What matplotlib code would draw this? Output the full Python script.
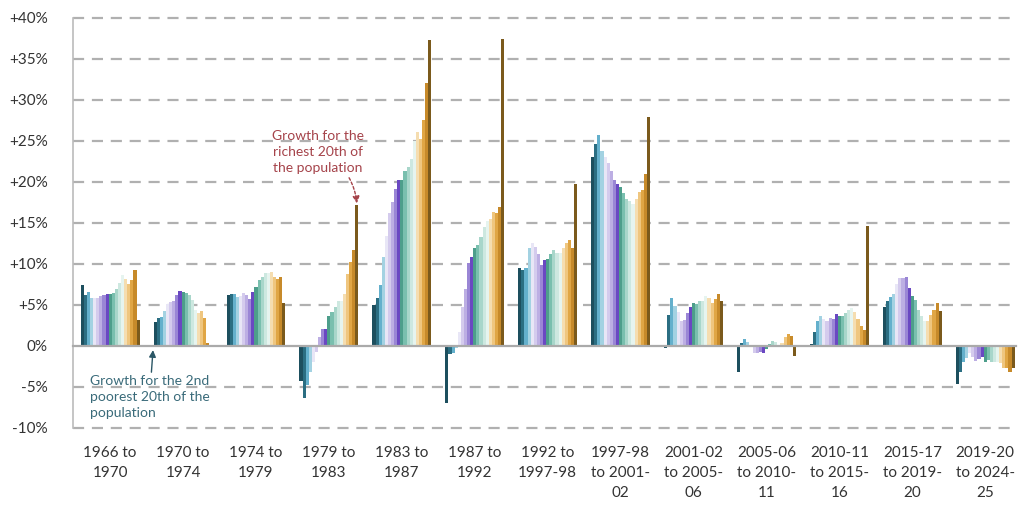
"""
Income growth by twentieth of the population, across periods
(grouped bars, one bar per twentieth from the 2nd poorest to the richest)
"""

import numpy as np
import matplotlib
matplotlib.use('Agg')
from matplotlib import pyplot as plt

plt.rcParams['font.family'] = ['Lato', 'DejaVu Sans']

periods = ['1966 to\n1970', '1970 to\n1974', '1974 to\n1979', '1979 to\n1983',
           '1983 to\n1987', '1987 to\n1992', '1992 to\n1997-98',
           '1997-98\nto 2001-\n02', '2001-02\nto 2005-\n06', '2005-06\nto 2010-\n11',
           '2010-11\nto 2015-\n16', '2015-17\nto 2019-\n20', '2019-20\nto 2024-\n25']

# growth (%) for twentieths 2..20, one list per period
g_1966 = [7.4, 6.2, 6.6, 5.8, 5.8, 5.8, 6.1, 6.2, 6.3, 6.4, 6.5, 6.9, 7.7, 8.7, 8.2, 7.5, 8.0, 9.3, 3.2]
g_1970 = [2.9, 3.4, 3.5, 4.3, 5.1, 5.4, 5.5, 6.2, 6.7, 6.6, 6.5, 6.2, 5.6, 4.4, 4.0, 4.3, 3.4, 0.4, 0.0]
g_1974 = [6.2, 6.4, 6.3, 6.0, 6.1, 6.5, 6.2, 5.7, 6.6, 7.2, 8.0, 8.4, 8.9, 8.9, 9.0, 8.4, 8.2, 8.4, 5.3]
g_1979 = [-4.3, -6.4, -4.8, -3.2, -1.9, -0.7, 1.1, 2.1, 2.1, 3.6, 4.2, 4.7, 5.5, 5.5, 6.3, 8.8, 10.3, 11.7, 17.2]
g_1983 = [5.0, 5.8, 7.4, 10.9, 13.4, 16.2, 17.5, 19.1, 20.2, 20.3, 21.4, 21.8, 22.8, 25.0, 26.1, 25.3, 27.5, 32.1, 37.3]
g_1987 = [-7.0, -1.0, -0.8, -0.3, 1.7, 4.7, 6.9, 10.1, 10.9, 12.0, 12.3, 13.3, 14.5, 15.3, 15.5, 16.4, 16.2, 16.9, 37.4]
g_1992 = [9.5, 9.3, 9.5, 11.9, 12.6, 12.1, 11.2, 9.9, 10.5, 10.6, 11.2, 11.7, 11.3, 11.3, 11.9, 12.5, 12.9, 11.9, 19.7]
g_1997 = [23.0, 24.6, 25.7, 23.8, 23.0, 22.3, 21.3, 20.2, 19.7, 19.4, 18.6, 17.9, 17.7, 17.3, 17.9, 18.8, 19.0, 21.0, 27.9]
g_2001 = [-0.2, 3.8, 5.8, 4.9, 4.2, 3.0, 3.2, 4.0, 4.7, 5.3, 5.1, 5.5, 5.5, 6.1, 5.9, 5.3, 5.7, 6.4, 5.5]
g_2005 = [-3.2, 0.4, 0.9, 0.5, 0.1, -0.8, -0.8, -0.7, -0.8, -0.4, 0.3, 0.6, 0.5, 0.1, 0.4, 1.1, 1.5, 1.2, -1.2]
g_2010 = [0.3, 1.7, 3.1, 3.7, 3.3, 3.1, 3.4, 3.3, 3.9, 3.7, 3.7, 4.0, 4.4, 4.6, 4.2, 3.3, 2.4, 1.9, 14.6]
g_2015 = [4.7, 5.5, 6.0, 6.4, 7.5, 8.3, 8.3, 8.4, 7.1, 6.1, 5.6, 4.4, 3.6, 3.0, 3.0, 3.8, 4.4, 5.3, 4.3]
g_2019 = [-4.6, -3.2, -2.0, -1.5, -0.9, -1.4, -1.8, -1.6, -1.3, -2.0, -1.7, -1.9, -2.0, -1.9, -2.1, -2.7, -2.7, -3.2, -2.7]

growth = [g_1966, g_1970, g_1974, g_1979, g_1983, g_1987, g_1992,
          g_1997, g_2001, g_2005, g_2010, g_2015, g_2019]

colours = ['#1d4f5e', '#2b6e82', '#64b0cc', '#a3d2e2', '#e8e6f6', '#d4cbed',
           '#bcaee3', '#9a86d5', '#6a48c2', '#4d9e8b', '#79bfae', '#a8d6ca',
           '#cde8e0', '#e6f4ef', '#f5ddb0', '#efc67f', '#e0a645', '#c78a2a',
           '#7b5a1c']

yticks = [-10, -5, 0, 5, 10, 15, 20, 25, 30, 35, 40]


def tick_label(v):
    if v > 0:
        return '+%d%%' % v
    return '%d%%' % v


def start():
    fig = plt.figure(figsize=(10.22, 5.08), dpi=100)
    ax = fig.add_axes([0.0714, 0.1575, 0.9226, 0.8071])

    n = len(colours)
    width = 0.0425
    offsets = (np.arange(n) - (n - 1) / 2) * width
    data = np.array(growth)
    for j in range(n):
        ax.bar(np.arange(len(periods)) + offsets[j], data[:, j], width=width,
               color=colours[j], linewidth=0, zorder=3)

    # grid lines: dashed, solid at zero
    for v in yticks:
        if v == 0:
            ax.axhline(0, color='#aaaaaa', lw=1.6, zorder=4, clip_on=False)
        else:
            ax.axhline(v, color='#b0b0b0', lw=1.6, ls=(0, (5, 3.5)), zorder=1, clip_on=False)

    ax.set_xlim(-0.51, 12.42)
    ax.set_ylim(-10, 40)
    ax.set_yticks(yticks)
    ax.set_yticklabels([tick_label(v) for v in yticks])
    ax.set_xticks(np.arange(len(periods)))
    ax.set_xticklabels(periods, linespacing=1.55)
    ax.tick_params(axis='both', length=0, labelsize=11, colors='#333333')
    ax.tick_params(axis='x', pad=13)
    ax.tick_params(axis='y', pad=18)

    for s in ['top', 'right', 'bottom']:
        ax.spines[s].set_visible(False)
    ax.spines['left'].set_color('#bbbbbb')
    ax.spines['left'].set_linewidth(1.2)

    # annotations
    ax.annotate('Growth for the\nrichest 20th of\nthe population',
                xy=(3 + offsets[-1], g_1979[-1] + 0.2), xytext=(3 - 0.15, 21.0),
                ha='center', va='bottom', fontsize=10, color='#a5434a', linespacing=1.4,
                arrowprops=dict(arrowstyle='-|>', color='#a5434a', lw=1,
                                ls=(0, (2, 1.5)), connectionstyle='arc3,rad=-0.3',
                                shrinkA=1, shrinkB=0, mutation_scale=10))
    ax.annotate('Growth for the 2nd\npoorest 20th of the\npopulation',
                xy=(1 + offsets[0] - 0.03, -0.5), xytext=(-0.28, -8.9),
                ha='left', va='bottom', fontsize=10, color='#3a6b7a', linespacing=1.4,
                arrowprops=dict(arrowstyle='-|>', color='#2b5766', lw=1,
                                shrinkA=0, shrinkB=0, mutation_scale=10))

    fig.savefig('out.png', dpi=100)


if __name__ == '__main__':
    start()
